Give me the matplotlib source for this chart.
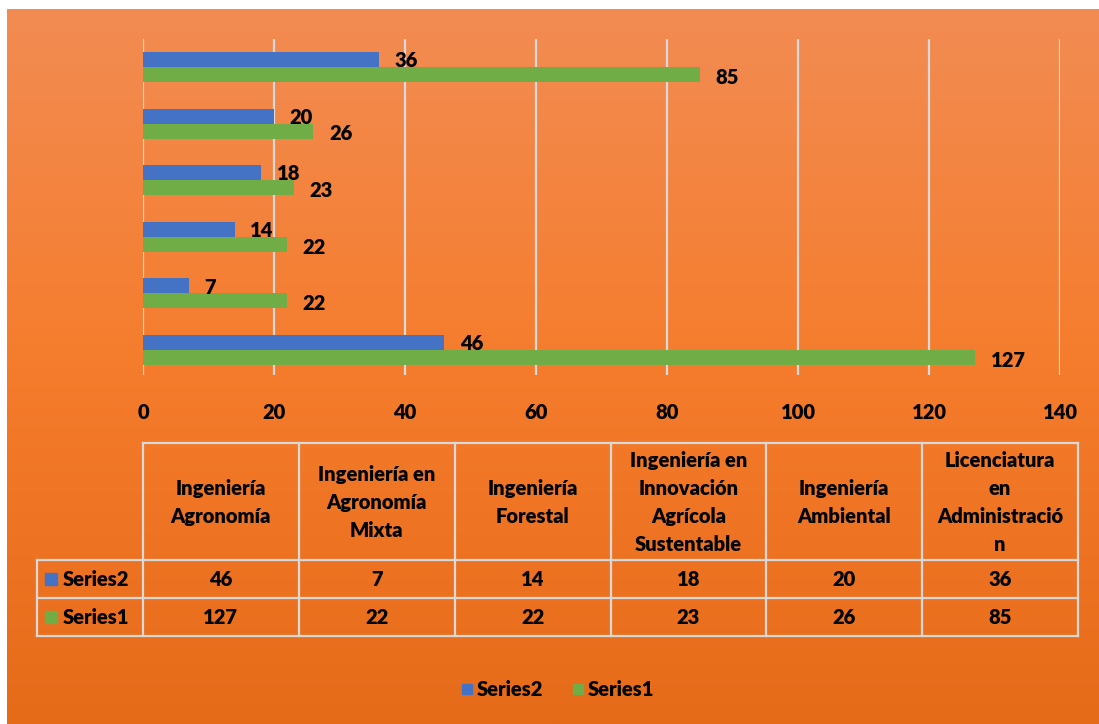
import numpy as np
import matplotlib.pyplot as plt
from matplotlib.colors import LinearSegmentedColormap
from matplotlib.patches import Rectangle

categories = ['Ingeniería\nAgronomía', 'Ingeniería en\nAgronomía\nMixta', 'Ingeniería\nForestal',
              'Ingeniería en\nInnovación\nAgrícola\nSustentable', 'Ingeniería\nAmbiental',
              'Licenciatura\nen\nAdministració\nn']
series2 = [46, 7, 14, 18, 20, 36]
series1 = [127, 22, 22, 23, 26, 85]
xticks = [0, 20, 40, 60, 80, 100, 120, 140]

blue = '#4472C4'
green = '#70AD47'
grid_col = '#D9D9D9'
font = 'Lato'
fw = 800
fs = 14.5

W, H = 1099, 724
fig = plt.figure(figsize=(W / 100, H / 100), dpi=100)
fig.patch.set_facecolor('white')

# background gradient panel
bg = fig.add_axes([0, 0, 1, 1])
bg.set_xlim(0, W)
bg.set_ylim(H, 0)
bg.axis('off')
cmap = LinearSegmentedColormap.from_list('bg', ['#F28C53', '#F57C2C', '#E66B19'])
grad = np.linspace(0, 1, 256).reshape(-1, 1)
bg.imshow(grad, cmap=cmap, aspect='auto', extent=[7, W, H, 9], zorder=0)

# bar chart
x0, x1 = 143, 1060
y_top, y_bot = 39, 375
ax = fig.add_axes([x0 / W, 1 - y_bot / H, (x1 - x0) / W, (y_bot - y_top) / H])
ax.patch.set_alpha(0)
n = len(categories)
pos = np.arange(n)
h = 0.265
ax.barh(pos + h / 2, series2, height=h, color=blue, zorder=3)
ax.barh(pos - h / 2, series1, height=h, color=green, zorder=3)
for i in range(n):
    ax.text(series2[i] + 2.4, pos[i] + h / 2 - 0.02, str(series2[i]), va='center', ha='left',
            fontsize=fs, fontweight=fw, family=font, zorder=4)
    ax.text(series1[i] + 2.4, pos[i] - h / 2 - 0.05, str(series1[i]), va='center', ha='left',
            fontsize=fs, fontweight=fw, family=font, zorder=4)
ax.set_xlim(0, 140)
ax.set_ylim(-0.44, n - 0.505)
ax.set_xticks(xticks)
ax.set_yticks([])
ax.grid(axis='x', color=grid_col, linewidth=1.6, zorder=1)
for s in ax.spines.values():
    s.set_visible(False)
ax.tick_params(axis='x', length=0, pad=20)
for lab in ax.get_xticklabels():
    lab.set_fontsize(fs)
    lab.set_fontweight(fw)
    lab.set_family(font)

# data table
col_edges = np.linspace(143, 1078, n + 1)
left = 37
r_head, r1, r2, r3 = 443, 560, 598, 636
lc = grid_col
lw = 1.6
bg.plot([col_edges[0], col_edges[-1]], [r_head, r_head], color=lc, lw=lw)
bg.plot([left, col_edges[-1]], [r1, r1], color=lc, lw=lw)
bg.plot([left, col_edges[-1]], [r2, r2], color=lc, lw=lw)
bg.plot([left, col_edges[-1]], [r3, r3], color=lc, lw=lw)
bg.plot([left, left], [r1, r3], color=lc, lw=lw)
for xe in col_edges:
    bg.plot([xe, xe], [r_head, r3], color=lc, lw=lw)

tkw = dict(fontsize=fs, fontweight=fw, family=font, ha='center', va='center')
for i in range(n):
    cx = (col_edges[i] + col_edges[i + 1]) / 2
    bg.text(cx, (r_head + r1) / 2 + 1, categories[i], linespacing=1.55, **tkw)
    bg.text(cx, (r1 + r2) / 2, str(series2[i]), **tkw)
    bg.text(cx, (r2 + r3) / 2, str(series1[i]), **tkw)

for yy, name, col in [((r1 + r2) / 2, 'Series2', blue), ((r2 + r3) / 2, 'Series1', green)]:
    bg.add_patch(Rectangle((45, yy - 6), 12, 12, color=col))
    bg.text(63, yy, name, fontsize=fs, fontweight=fw, family=font, ha='left', va='center')

# legend
ly = 689
bg.add_patch(Rectangle((462, ly - 5), 10, 10, color=blue))
bg.text(477, ly, 'Series2', fontsize=fs, fontweight=fw, family=font, ha='left', va='center')
bg.add_patch(Rectangle((573, ly - 5), 10, 10, color=green))
bg.text(588, ly, 'Series1', fontsize=fs, fontweight=fw, family=font, ha='left', va='center')

fig.savefig('out.png', dpi=100)
